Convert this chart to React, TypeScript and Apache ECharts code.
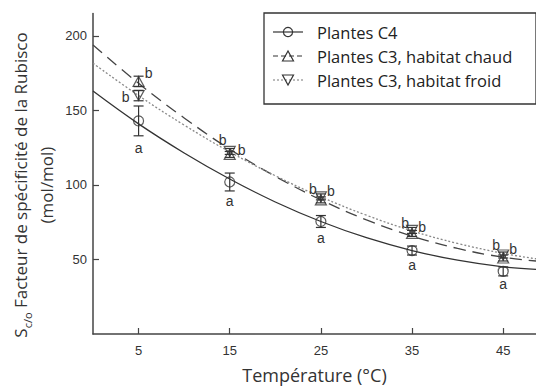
import React, { useEffect, useRef } from "react";
import * as echarts from "echarts";

// ---- Data ----
const temps = [5, 15, 25, 35, 45];
const c4Mean = [143, 102, 75.5, 56, 42];
const c4Err = [10, 6, 4, 3, 3];
const warmMean = [169.5, 120.5, 90, 67.5, 51];
const warmErr = [3.5, 2, 2, 2, 2];
const coldMean = [160, 122.5, 92, 69.5, 53];
const coldErr = [3.5, 2, 2, 2, 2];
const c4Letters = ["a", "a", "a", "a", "a"];
const warmLetters = ["b", "b", "b", "b", "b"];
const coldLetters = ["b", "b", "b", "b", "b"];

// fitted curves, read at several temperatures
const curveTemps = [0, 5, 10, 15, 20, 25, 30, 35, 40, 45, 48.6];
const c4Curve = [163, 141, 121.5, 104, 88.6, 75.5, 64.6, 56, 49.5, 45, 43.3];
const warmCurve = [194, 168.2, 145, 124, 105.8, 90, 76.6, 65.7, 57.4, 51.5, 49];
const coldCurve = [181.7, 160, 140.2, 122.2, 106.2, 92, 79.7, 69.2, 60.8, 54.1, 50.5];

const xTicks = [5, 15, 25, 35, 45];
const yTicks = [50, 100, 150, 200];

const seriesNames = ["Plantes C4", "Plantes C3, habitat chaud", "Plantes C3, habitat froid"];
const xTitle = "Température (°C)";
const yTitle1 = "Facteur de spécificité de la Rubisco";
const yTitle2 = "(mol/mol)";

// ---- Styles ----
const INK = "#333333";
// letter offsets in pixels: relative to the lower error cap for C4, to the marker for C3
const c4LabelOffsets = [[0, 12], [0, 10], [0, 11], [0, 10], [0, 8]];
const warmLabelOffsets = [[10, -8.5], [12, -4.5], [10, -9], [10, -6.5], [10, -9]];
const coldLabelOffsets = [[-13, 1], [-7, -11.5], [-8, -7.5], [-7, -7], [-7, -10]];

function errorBars(mean: number[], err: number[], letters: string[], offsets: number[][], fromLow: boolean) {
  return {
    type: "custom",
    silent: true,
    z: 3,
    data: temps.map((t, i) => [t, mean[i] - err[i], mean[i] + err[i], mean[i]]),
    encode: { x: 0, y: [1, 2] },
    itemStyle: { color: INK },
    renderItem: (params: any, api: any) => {
      const x = api.value(0);
      const lo = api.coord([x, api.value(1)]);
      const hi = api.coord([x, api.value(2)]);
      const mid = api.coord([x, api.value(3)]);
      const hw = 5;
      const st = { stroke: INK, lineWidth: 1.2 };
      const anchor = fromLow ? lo : mid;
      const off = offsets[params.dataIndex];
      const children: any[] = [
        { type: "line", shape: { x1: lo[0], y1: lo[1], x2: hi[0], y2: hi[1] }, style: st },
        { type: "line", shape: { x1: lo[0] - hw, y1: lo[1], x2: lo[0] + hw, y2: lo[1] }, style: st },
        { type: "line", shape: { x1: hi[0] - hw, y1: hi[1], x2: hi[0] + hw, y2: hi[1] }, style: st },
        {
          type: "text",
          x: anchor[0] + off[0],
          y: anchor[1] + off[1],
          z2: 10,
          style: {
            text: letters[params.dataIndex],
            fontSize: 14,
            fontFamily: "Liberation Sans",
            fill: INK,
            align: "center",
            verticalAlign: "middle",
          },
        },
      ];
      return { type: "group", children };
    },
  };
}

function markers(mean: number[], symbol: string, rotate: number, size: any) {
  return {
    type: "scatter",
    z: 4,
    silent: true,
    symbol,
    symbolRotate: rotate,
    symbolSize: size,
    itemStyle: { color: "transparent", borderColor: INK, borderWidth: 1.2 },
    data: temps.map((t, i) => [t, mean[i]]),
  };
}

function curve(values: number[], type: any, width: number, color: string) {
  return {
    type: "line",
    z: 2,
    smooth: 0.4,
    showSymbol: false,
    symbol: "none",
    silent: true,
    lineStyle: { color, width, type },
    data: curveTemps.map((t, i) => [t, values[i]]),
  };
}

function legendGraphics() {
  const left = 264, top = 13, w = 272, h = 91;
  const rows = [32, 56, 80];
  const lx1 = 273, lx2 = 303, cx = 288;
  const els: any[] = [
    { type: "rect", shape: { x: left, y: top, width: w, height: h }, style: { fill: "#fff", stroke: INK, lineWidth: 1.3 }, z: 10 },
  ];
  const dashes: any[] = [null, [5, 3], [2, 2]];
  rows.forEach((y, i) => {
    els.push({
      type: "line",
      z: 11,
      shape: { x1: lx1, y1: y, x2: lx2, y2: y },
      style: { stroke: i === 2 ? "#777" : INK, lineWidth: 1.2, lineDash: dashes[i] },
    });
    if (i === 0) {
      els.push({ type: "circle", z: 12, shape: { cx, cy: y, r: 4.6 }, style: { fill: "transparent", stroke: INK, lineWidth: 1.2 } });
    } else if (i === 1) {
      els.push({ type: "polygon", z: 12, shape: { points: [[cx, y - 5], [cx - 5.5, y + 5], [cx + 5.5, y + 5]] }, style: { fill: "transparent", stroke: INK, lineWidth: 1.2 } });
    } else {
      els.push({ type: "polygon", z: 12, shape: { points: [[cx - 5.5, y - 5], [cx + 5.5, y - 5], [cx, y + 5]] }, style: { fill: "transparent", stroke: INK, lineWidth: 1.2 } });
    }
    els.push({
      type: "text",
      z: 12,
      x: 317,
      y,
      style: { text: seriesNames[i], fontSize: 16.5, fontFamily: "Open Sans", fill: "#222", verticalAlign: "middle", align: "left" },
    });
  });
  return els;
}

export default function App() {
  const ref = useRef<HTMLDivElement>(null);
  useEffect(() => {
    if (!ref.current) return;
    const chart = echarts.init(ref.current, null, { renderer: "svg" });
    const option: any = {
      animation: false,
      backgroundColor: "#fff",
      grid: { left: 93, right: 0, top: 13.6, bottom: 56, containLabel: false, outerBoundsMode: "none" },
      xAxis: {
        type: "value",
        min: 0,
        max: 48.6,
        name: xTitle,
        nameLocation: "middle",
        nameGap: 32,
        nameTextStyle: { fontSize: 18, fontFamily: "Open Sans", color: INK },
        axisLine: { show: true, onZero: false, lineStyle: { color: "#444", width: 1.5 } },
        axisTick: { show: true, inside: true, length: 6, customValues: xTicks, lineStyle: { color: "#444", width: 1.2 } },
        axisLabel: { show: true, customValues: xTicks, fontSize: 13, fontFamily: "Liberation Sans", color: INK, margin: 10 },
        splitLine: { show: false },
      },
      yAxis: {
        type: "value",
        min: 0,
        max: 215,
        axisLine: { show: true, onZero: false, lineStyle: { color: "#444", width: 1.5 } },
        axisTick: { show: true, inside: true, length: 6, customValues: yTicks, lineStyle: { color: "#444", width: 1.2 } },
        axisLabel: { show: true, customValues: yTicks, fontSize: 13, fontFamily: "Liberation Sans", color: INK, margin: 6 },
        splitLine: { show: false },
      },
      series: [
        curve(c4Curve, "solid", 1.3, INK),
        curve(warmCurve, [12, 7], 1.3, "#444"),
        curve(coldCurve, [2, 2], 1.3, "#888"),
        errorBars(c4Mean, c4Err, c4Letters, c4LabelOffsets, true),
        errorBars(warmMean, warmErr, warmLetters, warmLabelOffsets, false),
        errorBars(coldMean, coldErr, coldLetters, coldLabelOffsets, false),
        markers(c4Mean, "circle", 0, 10),
        markers(warmMean, "triangle", 0, [11, 10]),
        markers(coldMean, "triangle", 180, [11, 10]),
      ],
      graphic: [
        {
          type: "text",
          x: 20,
          y: 185,
          rotation: Math.PI / 2,
          style: {
            text: "{s|S}{sub|c/o}{n| " + yTitle1 + "}",
            align: "center",
            verticalAlign: "middle",
            fill: INK,
            rich: {
              s: { fontSize: 17, fontFamily: "Open Sans", fill: INK, lineHeight: 26, verticalAlign: "middle" },
              sub: { fontSize: 11, fontFamily: "Open Sans", fill: INK, lineHeight: 26, verticalAlign: "bottom" },
              n: { fontSize: 17, fontFamily: "Open Sans", fill: INK, lineHeight: 26, verticalAlign: "middle" },
            },
          },
        },
        {
          type: "text",
          x: 46,
          y: 185,
          rotation: Math.PI / 2,
          style: { text: yTitle2, fontSize: 17, fontFamily: "Open Sans", fill: INK, align: "center", verticalAlign: "middle" },
        },
        ...legendGraphics(),
      ],
    };
    chart.setOption(option);
    return () => chart.dispose();
  }, []);
  return <div ref={ref} style={{ position: "fixed", left: 0, top: 0, width: 536, height: 390, background: "#fff" }} />;
}
